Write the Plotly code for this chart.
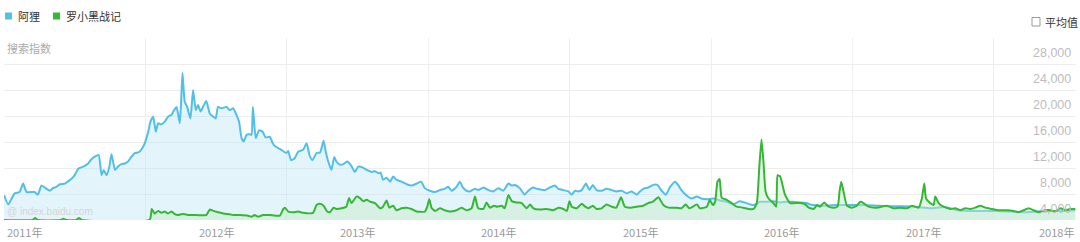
import plotly.graph_objects as go

# ---------------- data ----------------
series_names = ["阿狸", "罗小黑战记"]
series_colors = ["#52bfe6", "#33b833"]

ali_t = [2011.000, 2011.030, 2011.075, 2011.110, 2011.135, 2011.160, 2011.215, 2011.240, 2011.265, 2011.300,
         2011.325, 2011.345, 2011.370, 2011.395, 2011.430, 2011.450, 2011.475, 2011.500, 2011.525, 2011.560,
         2011.595, 2011.620, 2011.655, 2011.670, 2011.690, 2011.705, 2011.725, 2011.745, 2011.760, 2011.785,
         2011.805, 2011.830, 2011.855, 2011.877, 2011.900, 2011.925, 2011.950, 2011.970, 2011.995, 2012.020,
         2012.035, 2012.055, 2012.073, 2012.090, 2012.110, 2012.135, 2012.160, 2012.185, 2012.200, 2012.220,
         2012.230, 2012.243, 2012.252, 2012.262, 2012.278, 2012.295, 2012.318, 2012.337, 2012.356, 2012.372,
         2012.390, 2012.407, 2012.430, 2012.455, 2012.480, 2012.497, 2012.513, 2012.537, 2012.573, 2012.597,
         2012.620, 2012.643, 2012.662, 2012.680, 2012.695, 2012.715, 2012.738, 2012.750, 2012.760, 2012.780,
         2012.803, 2012.828, 2012.850, 2012.880, 2012.900, 2012.920, 2012.960, 2012.997, 2013.010, 2013.030,
         2013.055, 2013.080, 2013.115, 2013.140, 2013.160, 2013.180, 2013.210, 2013.235, 2013.260, 2013.275,
         2013.290, 2013.315, 2013.335, 2013.350, 2013.375, 2013.400, 2013.427, 2013.457, 2013.480, 2013.505,
         2013.535, 2013.565, 2013.600, 2013.623, 2013.647, 2013.663, 2013.680, 2013.705, 2013.730, 2013.752,
         2013.775, 2013.810, 2013.847, 2013.880, 2013.917, 2013.950, 2013.975, 2014.010, 2014.047, 2014.082,
         2014.117, 2014.140, 2014.165, 2014.200, 2014.223, 2014.242, 2014.270, 2014.295, 2014.330, 2014.353,
         2014.390, 2014.425, 2014.460, 2014.495, 2014.530, 2014.567, 2014.590, 2014.612, 2014.647, 2014.680,
         2014.707, 2014.742, 2014.767, 2014.790, 2014.825, 2014.860, 2014.895, 2014.920, 2014.955, 2014.990,
         2015.014, 2015.038, 2015.060, 2015.085, 2015.115, 2015.140, 2015.163, 2015.190, 2015.226, 2015.260,
         2015.297, 2015.330, 2015.368, 2015.403, 2015.438, 2015.474, 2015.497, 2015.520, 2015.556, 2015.590,
         2015.620, 2015.650, 2015.680, 2015.710, 2015.745, 2015.770, 2015.790, 2015.825, 2015.860, 2015.900,
         2015.930, 2015.970, 2016.016, 2016.063, 2016.110, 2016.158, 2016.200, 2016.250, 2016.300, 2016.345,
         2016.390, 2016.440, 2016.487, 2016.535, 2016.580, 2016.627, 2016.675, 2016.700, 2016.795, 2016.890,
         2016.980, 2017.080, 2017.175, 2017.270, 2017.360, 2017.460, 2017.550, 2017.650, 2017.740, 2017.830,
         2017.930, 2018.020, 2018.115, 2018.210, 2018.305, 2018.400, 2018.490, 2018.575]
ali_v = [3850, 2400, 4100, 4300, 5600, 4300, 4300, 3900, 5300, 4800,
         4500, 4900, 5100, 5500, 5600, 5900, 6300, 6900, 7900, 8200,
         8700, 9400, 9900, 10000, 6900, 7700, 6900, 8200, 10100, 7700,
         8200, 8600, 8700, 9000, 9700, 10300, 10400, 10800, 11800, 13600,
         15100, 15900, 13600, 14900, 14700, 15100, 15900, 16200, 16800, 17400,
         16400, 14900, 18000, 22600, 18200, 17400, 15600, 20000, 16900, 17700,
         16700, 17400, 18300, 16400, 15900, 15600, 17400, 17200, 17400, 16900,
         17200, 16200, 15100, 12600, 12100, 13100, 13200, 13100, 17400, 12600,
         13800, 13600, 12700, 12800, 11800, 11300, 10800, 10300, 10600, 9200,
         9500, 10500, 10800, 11800, 10000, 9200, 10300, 10400, 12200, 10500,
         9200, 7700, 9700, 9000, 8500, 8600, 9000, 8300, 7400, 8200,
         8100, 7700, 7400, 7500, 7200, 7300, 6200, 6500, 5900, 6700,
         6200, 5900, 5500, 5300, 5600, 5900, 4900, 4500, 4300, 4600,
         4800, 5100, 4500, 5100, 5900, 5100, 4500, 4400, 4800, 4600,
         5000, 4600, 4400, 4900, 4500, 5600, 5300, 5400, 4900, 3900,
         4500, 5000, 4800, 4700, 4600, 5000, 5300, 4800, 4600, 4400,
         3900, 4500, 4400, 4600, 5600, 4600, 5400, 4600, 4500, 4800,
         4600, 4400, 4500, 4100, 4400, 3900, 4400, 4800, 5000, 5400,
         5400, 4500, 3900, 5100, 5900, 5300, 4600, 3800, 3300, 3600,
         3300, 3200, 3300, 3000, 2800, 2400, 2900, 2600, 2300, 2800,
         2800, 2900, 2700, 2800, 2800, 2700, 2600, 2400, 2200, 2300,
         2300, 2300, 2200, 2100, 2100, 2000, 1800, 2000, 1500, 1400,
         1400, 1400, 1300, 1200, 1300, 1400, 1400, 1500]

luo_t = [2011.000, 2011.200, 2011.220, 2011.240, 2011.400, 2011.420, 2011.440, 2011.510, 2011.530, 2011.550,
         2012.030, 2012.045, 2012.065, 2012.090, 2012.113, 2012.137, 2012.160, 2012.185, 2012.207, 2012.230,
         2012.255, 2012.278, 2012.300, 2012.337, 2012.430, 2012.455, 2012.480, 2012.513, 2012.550, 2012.597,
         2012.620, 2012.667, 2012.726, 2012.750, 2012.772, 2012.797, 2012.832, 2012.880, 2012.950, 2012.975,
         2012.986, 2013.010, 2013.045, 2013.080, 2013.115, 2013.185, 2013.210, 2013.235, 2013.260, 2013.285,
         2013.305, 2013.330, 2013.350, 2013.387, 2013.420, 2013.440, 2013.457, 2013.492, 2013.515, 2013.540,
         2013.565, 2013.590, 2013.623, 2013.660, 2013.680, 2013.705, 2013.724, 2013.752, 2013.775, 2013.810,
         2013.847, 2013.880, 2013.917, 2013.976, 2013.993, 2014.007, 2014.023, 2014.047, 2014.082, 2014.117,
         2014.153, 2014.200, 2014.235, 2014.270, 2014.306, 2014.330, 2014.353, 2014.390, 2014.412, 2014.436,
         2014.464, 2014.488, 2014.520, 2014.540, 2014.567, 2014.590, 2014.625, 2014.660, 2014.696, 2014.720,
         2014.743, 2014.790, 2014.837, 2014.885, 2014.920, 2014.955, 2014.980, 2014.998, 2015.014, 2015.050,
         2015.085, 2015.110, 2015.132, 2015.163, 2015.190, 2015.226, 2015.260, 2015.297, 2015.330, 2015.363,
         2015.390, 2015.427, 2015.474, 2015.520, 2015.556, 2015.587, 2015.627, 2015.662, 2015.698, 2015.757,
         2015.790, 2015.820, 2015.847, 2015.900, 2015.920, 2015.970, 2015.990, 2016.012, 2016.028, 2016.045,
         2016.060, 2016.075, 2016.110, 2016.146, 2016.180, 2016.228, 2016.264, 2016.300, 2016.323, 2016.340,
         2016.356, 2016.370, 2016.385, 2016.406, 2016.440, 2016.460, 2016.470, 2016.488, 2016.523, 2016.558,
         2016.594, 2016.630, 2016.665, 2016.690, 2016.725, 2016.750, 2016.770, 2016.800, 2016.830, 2016.866,
         2016.894, 2016.908, 2016.920, 2016.936, 2016.960, 2016.995, 2017.030, 2017.054, 2017.078, 2017.113,
         2017.172, 2017.243, 2017.290, 2017.337, 2017.384, 2017.420, 2017.467, 2017.490, 2017.507, 2017.520,
         2017.550, 2017.573, 2017.585, 2017.608, 2017.644, 2017.691, 2017.727, 2017.762, 2017.797, 2017.833,
         2017.868, 2017.903, 2017.939, 2017.986, 2018.033, 2018.092, 2018.139, 2018.174, 2018.210, 2018.245,
         2018.281, 2018.316, 2018.340, 2018.363, 2018.400, 2018.433, 2018.470, 2018.505, 2018.540, 2018.575]
luo_v = [0, 0, 300, 0, 0, 200, 0, 0, 300, 0,
         50, 1700, 1000, 1400, 1100, 1300, 1000, 1300, 900, 770,
         900, 900, 770, 770, 770, 1600, 1400, 1200, 1000, 870,
         770, 770, 670, 500, 770, 500, 770, 770, 670, 1700,
         1900, 1300, 1200, 1300, 1100, 1100, 2300, 2500, 2200, 1300,
         1200, 1900, 1700, 1800, 2050, 3400, 2600, 3600, 3400, 2900,
         3100, 2800, 2600, 1800, 2050, 3000, 1900, 2200, 1500, 1800,
         1900, 1700, 1300, 1300, 2050, 3200, 1900, 1400, 1800, 1500,
         1300, 1500, 1900, 1500, 1800, 3600, 1800, 1700, 2700, 1900,
         2200, 2050, 2200, 1800, 3850, 2900, 2700, 2600, 1800, 2400,
         1800, 1600, 1700, 1500, 1900, 1700, 1400, 2900, 2050, 1800,
         2500, 2050, 1800, 2200, 1700, 1800, 2400, 2050, 1900, 3500,
         2050, 1900, 2050, 2200, 2600, 2800, 3500, 2300, 1900, 1900,
         1800, 2400, 1800, 2400, 1800, 2050, 3100, 2300, 2800, 5900,
         6300, 3400, 3100, 2600, 2050, 1900, 1700, 1700, 2600, 7900,
         12400, 9000, 4400, 3300, 2600, 2050, 6900, 6700, 3850, 2600,
         2600, 2600, 2400, 1900, 1700, 2300, 2050, 2700, 2050, 1900,
         2050, 4400, 5900, 4400, 2200, 1900, 2200, 2800, 2600, 2050,
         1900, 2200, 1800, 1900, 1800, 2200, 1900, 3300, 5600, 3300,
         2600, 2300, 3600, 2600, 2050, 1700, 1800, 1500, 1800, 1700,
         1900, 2200, 1900, 1700, 1500, 1500, 1400, 1200, 1500, 1800,
         1500, 1200, 1400, 1500, 1500, 1300, 1800, 1500, 1700, 1700]

year_labels = ["2011年", "2012年", "2013年", "2014年", "2015年", "2016年", "2017年", "2018年"]
year_values = [2011, 2012, 2013, 2014, 2015, 2016, 2017, 2018]
y_ticks = [4000, 8000, 12000, 16000, 20000, 24000, 28000]
y_axis_title = "搜索指数"
avg_label = "平均值"
watermark = "@ index.baidu.com"

X_MIN, X_MAX = 2011.0, 2018.58
Y_MAX = 28000

# ---------------- figure ----------------
fig = go.Figure()
fig.add_trace(go.Scatter(
    x=ali_t, y=ali_v, mode="lines", name=series_names[0],
    line=dict(color=series_colors[0], width=2, shape="spline", smoothing=0.5),
    fill="tozeroy", fillcolor="rgba(190,228,246,0.42)",
))
fig.add_trace(go.Scatter(
    x=luo_t, y=luo_v, mode="lines", name=series_names[1],
    line=dict(color=series_colors[1], width=2, shape="spline", smoothing=0.5),
    fill="tozeroy", fillcolor="rgba(200,236,200,0.45)",
))

CJK = "Noto Sans CJK SC, Liberation Sans, sans-serif"
NUM = "Liberation Sans, Arial, sans-serif"

annotations = []
shapes = []

# y tick labels (right side, below gridline)
for v in y_ticks:
    annotations.append(dict(
        x=1.0, xref="paper", y=v, yref="y", xanchor="right", yanchor="top",
        xshift=-3, yshift=-6, showarrow=False, text=f"{v:,}",
        font=dict(family=NUM, size=12.5, color="#bdbdbd")))

# x (year) labels centered between yearly gridlines; edges clamped
for lab, yr in zip(year_labels, year_values):
    if yr == year_values[0]:
        xv, anc, xs = X_MIN, "left", 1
    elif yr == year_values[-1]:
        xv, anc, xs = X_MAX, "right", 0
    else:
        xv, anc, xs = yr + 0.5, "center", 0
    annotations.append(dict(
        x=xv, xref="x", y=0, yref="paper", xanchor=anc, yanchor="top",
        xshift=xs, yshift=-2, showarrow=False, text=lab,
        font=dict(family=CJK, size=11, color="#9a9a9a")))

# axis title
annotations.append(dict(
    x=0, xref="paper", y=1, yref="paper", xanchor="left", yanchor="top",
    xshift=1, yshift=0, showarrow=False, text=y_axis_title,
    font=dict(family=CJK, size=11, color="#aaaaaa")))

# watermark
annotations.append(dict(
    x=0, xref="paper", y=0, yref="paper", xanchor="left", yanchor="bottom",
    xshift=1, yshift=1, showarrow=False, text=watermark,
    font=dict(family=NUM, size=10, color="#d4d4d4")))

# custom legend (top-left)
lx = 5
for name, col in zip(series_names, series_colors):
    shapes.append(dict(type="rect", xref="paper", yref="paper",
                       x0=(lx - 4) / 1072, x1=(lx + 3) / 1072,
                       y0=(220 - 19.5) / 182, y1=(220 - 12.5) / 182,
                       fillcolor=col, line=dict(width=0)))
    annotations.append(dict(
        x=(lx + 11 - 4) / 1072, xref="paper", y=(220 - 16) / 182, yref="paper",
        xanchor="left", yanchor="middle", showarrow=False, text=name,
        font=dict(family=CJK, size=11, color="#333333")))
    lx += 11 + 11 * len(name) + 15

# average checkbox (top-right)
shapes.append(dict(type="rect", xref="paper", yref="paper",
                   x0=(1032 - 4) / 1072, x1=(1040 - 4) / 1072,
                   y0=(220 - 26) / 182, y1=(220 - 17.5) / 182,
                   fillcolor="white", line=dict(color="#9a9a9a", width=1)))
annotations.append(dict(
    x=(1043 - 4) / 1072, xref="paper", y=(220 - 21.5) / 182, yref="paper",
    xanchor="left", yanchor="middle", showarrow=False, text=avg_label,
    font=dict(family=CJK, size=11, color="#333333")))

fig.update_layout(
    width=1080, height=242,
    margin=dict(l=4, r=4, t=38, b=22),
    paper_bgcolor="white", plot_bgcolor="white",
    showlegend=False,
    annotations=annotations, shapes=shapes,
    xaxis=dict(range=[X_MIN, X_MAX], tickvals=year_values[1:], showticklabels=False,
               showgrid=True, gridcolor="#efefef", gridwidth=1, zeroline=False,
               showline=False, ticks=""),
    yaxis=dict(range=[0, Y_MAX], tickvals=y_ticks, showticklabels=False,
               showgrid=True, gridcolor="#ededed", gridwidth=1, zeroline=False,
               showline=False, ticks=""),
)

fig.write_html("out.html")
